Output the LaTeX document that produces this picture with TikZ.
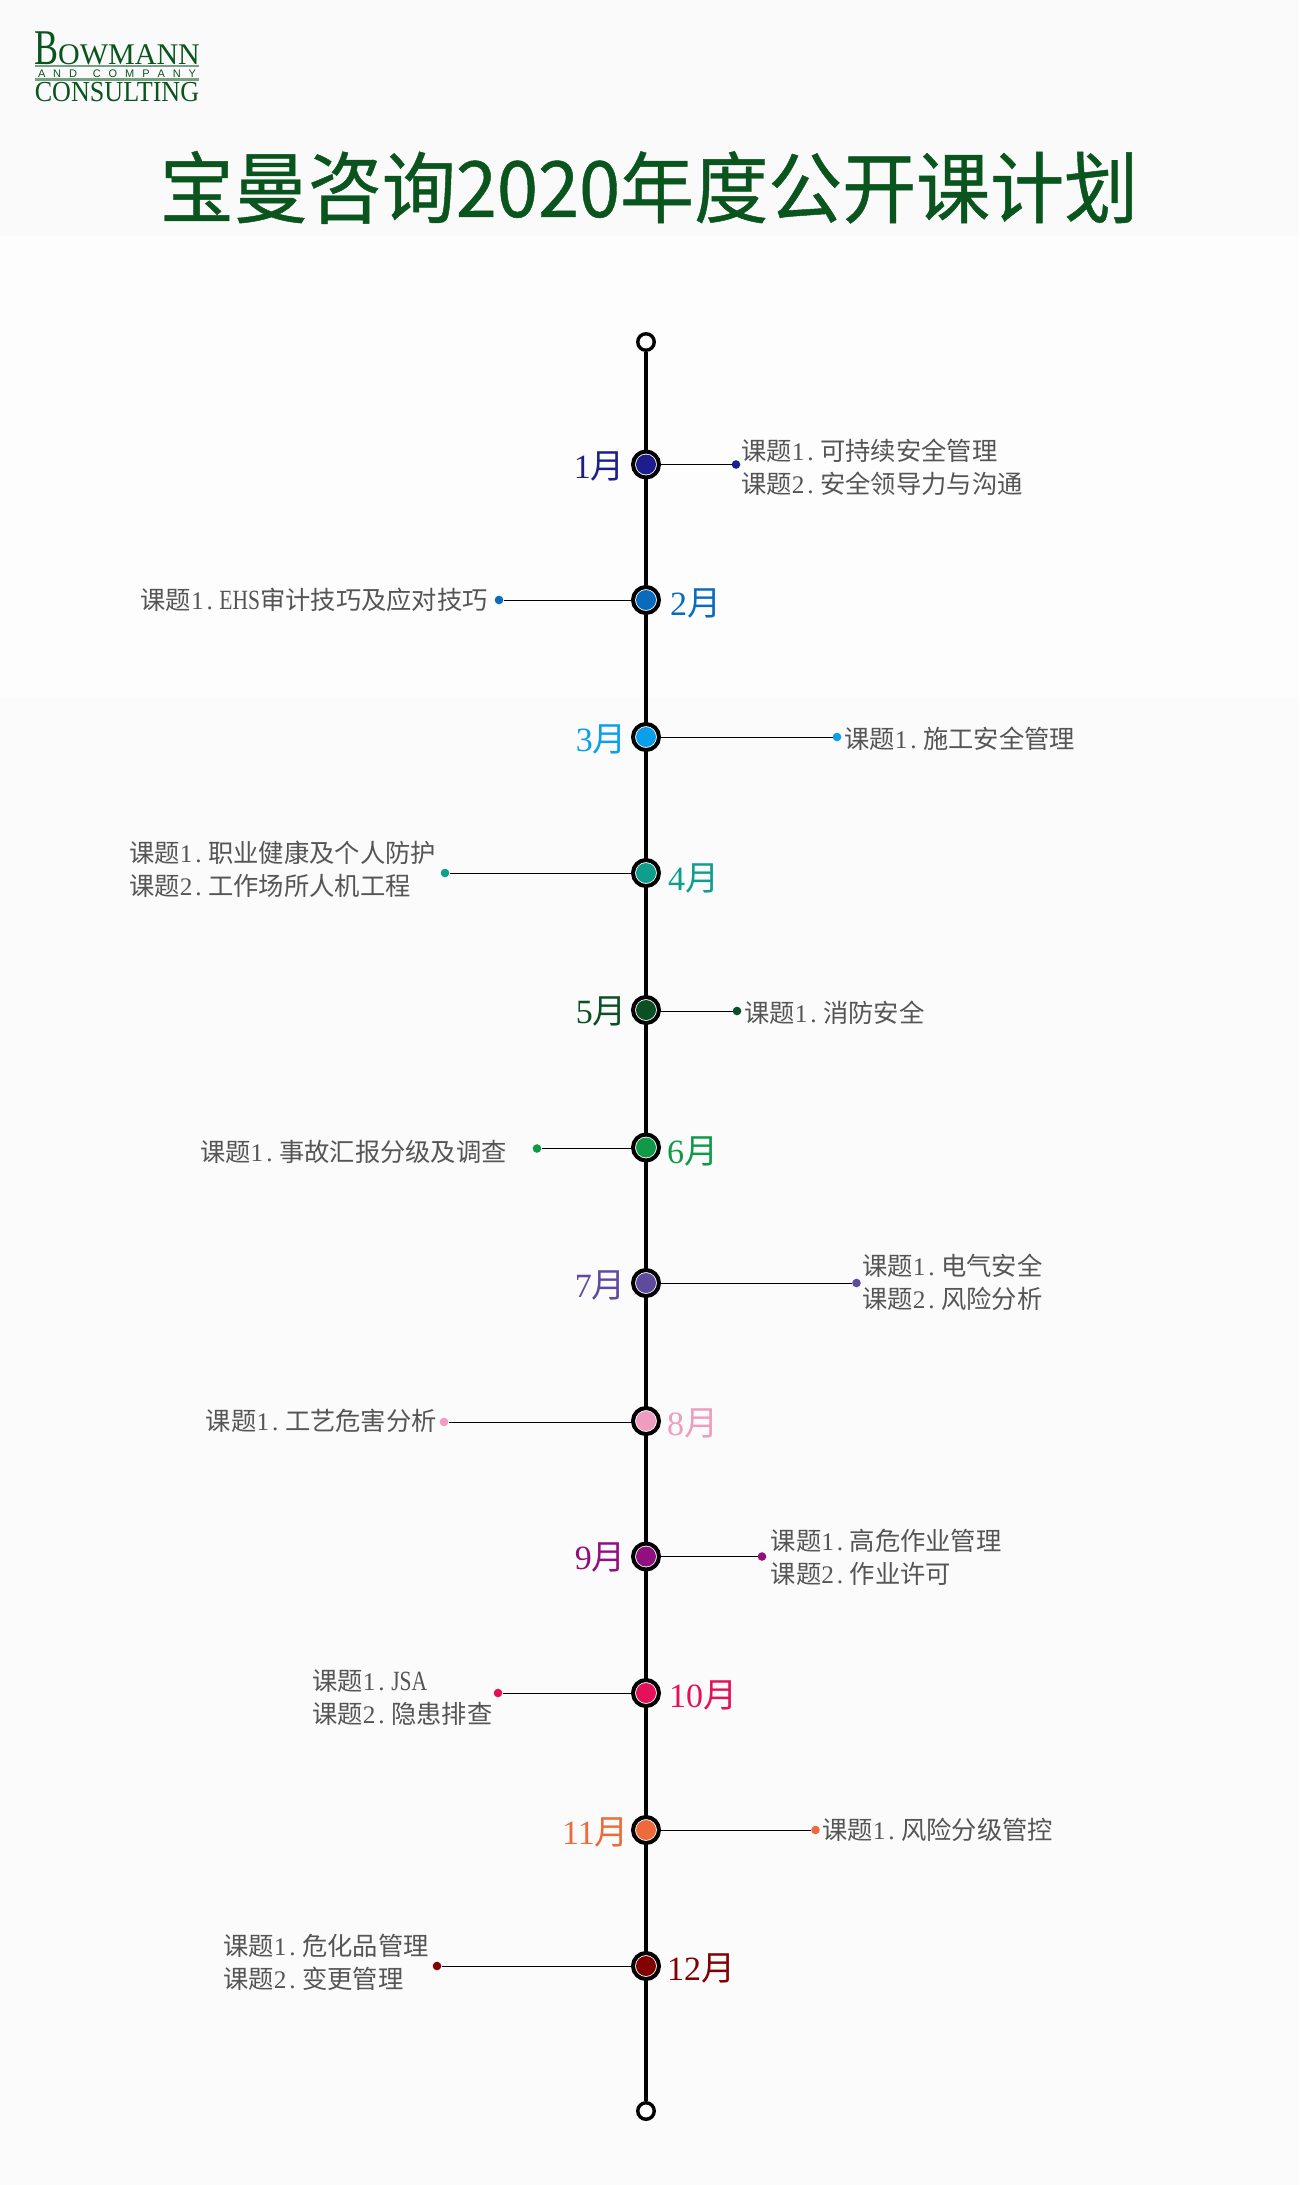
\documentclass[tikz,border=0pt]{standalone}
\usepackage{fontspec}
\setmainfont{Liberation Serif}
\newfontfamily\cjk{Noto Sans CJK SC}
\newfontfamily\cjktitle[FakeBold=0.6]{Noto Sans CJK SC}
\newfontfamily\latser{Liberation Serif}
\newfontfamily\latsans{Liberation Sans}
\newcommand{\dg}[1]{{\latser #1\kern3pt.\kern6.5pt}}
\newcommand{\ms}[1]{{\latser\scalebox{0.85}[1.1]{#1}}}
\definecolor{cA}{HTML}{1D1D8E}
\definecolor{cB}{HTML}{0A6BBD}
\definecolor{cC}{HTML}{0A9FEA}
\definecolor{cD}{HTML}{0E9E8E}
\definecolor{cE}{HTML}{0A5022}
\definecolor{cF}{HTML}{109A48}
\definecolor{cG}{HTML}{5F4B9E}
\definecolor{cH}{HTML}{EE9CC0}
\definecolor{cI}{HTML}{920F80}
\definecolor{cJ}{HTML}{E4105A}
\definecolor{cK}{HTML}{EE6A3A}
\definecolor{cL}{HTML}{820000}
\definecolor{brand}{HTML}{0A551E}
\definecolor{bodytext}{HTML}{555555}
\tikzset{
  x=1pt,y=-1pt,
  ringnode/.style={circle,draw=black,line width=4pt,fill=white,minimum size=26pt,inner sep=0pt},
  corenode/.style={circle,fill=#1,minimum size=20pt,inner sep=0pt},
  endnode/.style={circle,draw=black,line width=3.4pt,fill=white,minimum size=16.5pt,inner sep=0pt},
  enddot/.style={circle,fill=#1,minimum size=8.6pt,inner sep=0pt},
  spine/.style={line width=4pt,black},
  leader/.style={line width=1pt,black},
  monthlabel/.style={text=#1,inner sep=0pt,font=\fontsize{34}{38}\selectfont},
  topic/.style={text=bodytext,inner sep=0pt,align=left,font=\fontsize{25.3}{33}\selectfont\cjk},
  logotext/.style={text=brand,inner sep=0pt},
}
\newcommand{\M}[1]{\latser #1{\cjk 月}}
\begin{document}
\begin{tikzpicture}
\useasboundingbox (0,0) rectangle (1299,2185);
\fill[fill=white!98!black] (0,0) rectangle (1299,236);
\fill[fill=white!99.4!black] (0,236) rectangle (1299,697);
\fill[fill=white!98.4!black] (0,697) rectangle (1299,2185);

% logo
\node[logotext,anchor=base west,font=\fontsize{50}{50}\selectfont] (logob) at (34,64) {\scalebox{0.72}[1]{B}};
\node[logotext,anchor=base west,font=\fontsize{30}{30}\selectfont] (logoa) at (58,64) {\scalebox{1.0}[1]{OWMANN}};
\node[logotext,anchor=base,font=\fontsize{11}{11}\selectfont\latsans] (logoc) at (117,77) {\makebox[158pt][s]{A\hfil N\hfil D\hfil\hfil C\hfil O\hfil M\hfil P\hfil A\hfil N\hfil Y}};
\node[logotext,anchor=base,font=\fontsize{29}{29}\selectfont] (logod) at (117,101) {\scalebox{0.9}[1]{CONSULTING}};
\fill[brand!55!white] (35,64.5) rectangle (199,67);
\fill[brand!55!white] (35,78) rectangle (199,80.5);

% title
\node[text=brand,inner sep=0pt,font=\fontsize{74}{80}\selectfont\cjktitle] (title) at (649,187.5) {\scalebox{1}[1.05]{宝曼咨询2020年度公开课计划}};

% spine
\node[endnode] (top) at (646,342) {};
\node[endnode] (bottom) at (646,2111) {};
\coordinate (m1) at (646,464.5);
\coordinate (m2) at (646,600);
\coordinate (m3) at (646,737);
\coordinate (m4) at (646,873);
\coordinate (m5) at (646,1010);
\coordinate (m6) at (646,1147.5);
\coordinate (m7) at (646,1283);
\coordinate (m8) at (646,1421);
\coordinate (m9) at (646,1556.5);
\coordinate (m10) at (646,1693);
\coordinate (m11) at (646,1830);
\coordinate (m12) at (646,1966);
\draw[spine] (top) -- (bottom);

% end dots and leaders
\foreach \n/\c/\dx/\dy in {1/cA/736/464.5,2/cB/499/600,3/cC/837/737,4/cD/445/873,5/cE/737/1011,6/cF/537/1148.5,7/cG/856.5/1283,8/cH/444/1422,9/cI/762/1556.5,10/cJ/498/1693,11/cK/815.5/1830,12/cL/437/1966}{
  \node[enddot=\c] (d\n) at (\dx,\dy) {};
  \draw[leader] (d\n) -- (d\n -| m\n);
  \node[ringnode] (r\n) at (m\n) {};
  \node[corenode=\c] (k\n) at (m\n) {};
}

% month labels
\node[monthlabel=cA,anchor=east] (l1) at (625,466) {\M{1}};
\node[monthlabel=cB,anchor=west] (l2) at (670,603) {\M{2}};
\node[monthlabel=cC,anchor=east] (l3) at (627,739) {\M{3}};
\node[monthlabel=cD,anchor=west] (l4) at (668,878) {\M{4}};
\node[monthlabel=cE,anchor=east] (l5) at (627,1011) {\M{5}};
\node[monthlabel=cF,anchor=west] (l6) at (667,1151) {\M{6}};
\node[monthlabel=cG,anchor=east] (l7) at (626,1285) {\M{7}};
\node[monthlabel=cH,anchor=west] (l8) at (667,1423) {\M{8}};
\node[monthlabel=cI,anchor=east] (l9) at (626,1557) {\M{9}};
\node[monthlabel=cJ,anchor=west] (l10) at (669,1695) {\M{10}};
\node[monthlabel=cK,anchor=east] (l11) at (629,1832) {\M{11}};
\node[monthlabel=cL,anchor=west] (l12) at (667,1968) {\M{12}};

% topics
\node[topic,anchor=west] (t1) at (741,467) {课题\dg{1}可持续安全管理\\课题\dg{2}安全领导力与沟通};
\node[topic,anchor=east] (t2) at (488,600) {课题\dg{1}\ms{EHS}审计技巧及应对技巧};
\node[topic,anchor=west] (t3) at (844,739) {课题\dg{1}施工安全管理};
\node[topic,anchor=west] (t4) at (129,869.5) {课题\dg{1}职业健康及个人防护\\课题\dg{2}工作场所人机工程};
\node[topic,anchor=west] (t5) at (744,1012.5) {课题\dg{1}消防安全};
\node[topic,anchor=east] (t6) at (507,1151.5) {课题\dg{1}事故汇报分级及调查};
\node[topic,anchor=west] (t7) at (862,1282.5) {课题\dg{1}电气安全\\课题\dg{2}风险分析};
\node[topic,anchor=east] (t8) at (437,1421) {课题\dg{1}工艺危害分析};
\node[topic,anchor=west] (t9) at (770.5,1557) {课题\dg{1}高危作业管理\\课题\dg{2}作业许可};
\node[topic,anchor=west] (t10) at (312,1698) {课题\dg{1}\ms{JSA}\\课题\dg{2}隐患排查};
\node[topic,anchor=west] (t11) at (822,1829.5) {课题\dg{1}风险分级管控};
\node[topic,anchor=west] (t12) at (223,1962) {课题\dg{1}危化品管理\\课题\dg{2}变更管理};
\end{tikzpicture}
\end{document}
